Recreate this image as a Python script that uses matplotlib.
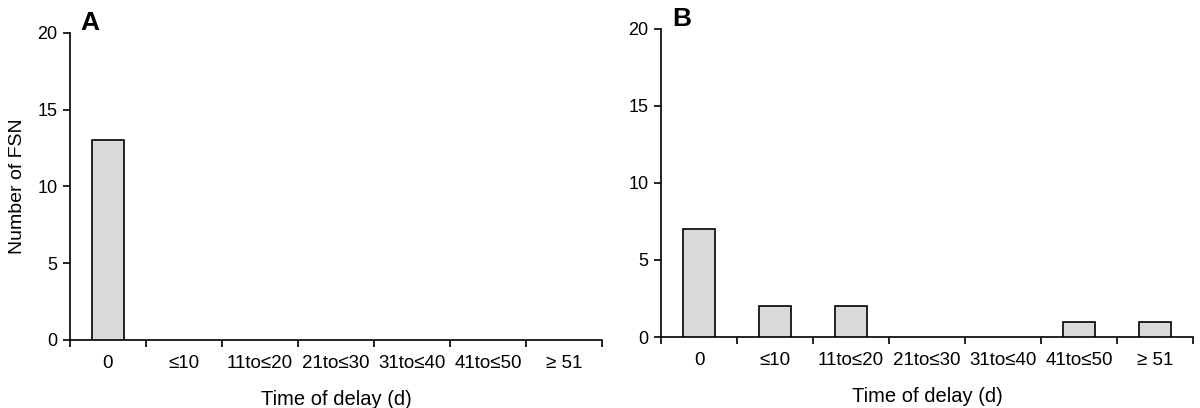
import matplotlib.pyplot as plt
import numpy as np

plt.rcParams['font.family'] = ['Liberation Sans', 'DejaVu Sans']

categories = ["0", "\u226410", "11to\u226420", "21to\u226430", "31to\u226440", "41to\u226450", "\u2265 51"]
counts_a = [13, 0, 0, 0, 0, 0, 0]
counts_b = [7, 2, 2, 0, 0, 1, 1]
panels = ["A", "B"]

fig = plt.figure(figsize=(12, 4.08), dpi=100)
ax_a = fig.add_axes([0.0583, 0.1667, 0.4433, 0.7525])
ax_b = fig.add_axes([0.551, 0.174, 0.4433, 0.755])

x = np.arange(len(categories))

for ax, counts, letter in zip([ax_a, ax_b], [counts_a, counts_b], panels):
    # empty bins get no outline so nothing shows on the axis line
    lws = [1.2 if c > 0 else 0 for c in counts]
    ax.bar(x, counts, width=0.42, color='#d9d9d9', edgecolor='black', linewidth=lws, zorder=3)
    ax.set_xlim(-0.5, len(categories) - 0.5)
    ax.set_ylim(0, 20)
    ax.set_yticks([0, 5, 10, 15, 20])
    # tick marks between categories, labels at the centres
    ax.set_xticks(np.arange(len(categories) + 1) - 0.5)
    ax.set_xticklabels([])
    ax.set_xticks(x, minor=True)
    ax.set_xticklabels(categories, minor=True)
    ax.tick_params(axis='x', which='major', direction='out', length=5, width=1.2)
    ax.tick_params(axis='x', which='minor', length=0, pad=11, labelsize=13.5)
    ax.tick_params(axis='y', direction='out', length=5, width=1.2, pad=4, labelsize=13)
    for s in ['top', 'right']:
        ax.spines[s].set_visible(False)
    for s in ['left', 'bottom']:
        ax.spines[s].set_linewidth(1.2)
    ax.set_xlabel('Time of delay (d)', fontsize=14.5, labelpad=13)
    ax.text(0.02, 1.07, letter, transform=ax.transAxes, fontsize=19,
            fontweight='bold', va='top', ha='left')

ax_a.set_ylabel('Number of FSN', fontsize=14, labelpad=8)

fig.savefig('out.png', dpi=100)
